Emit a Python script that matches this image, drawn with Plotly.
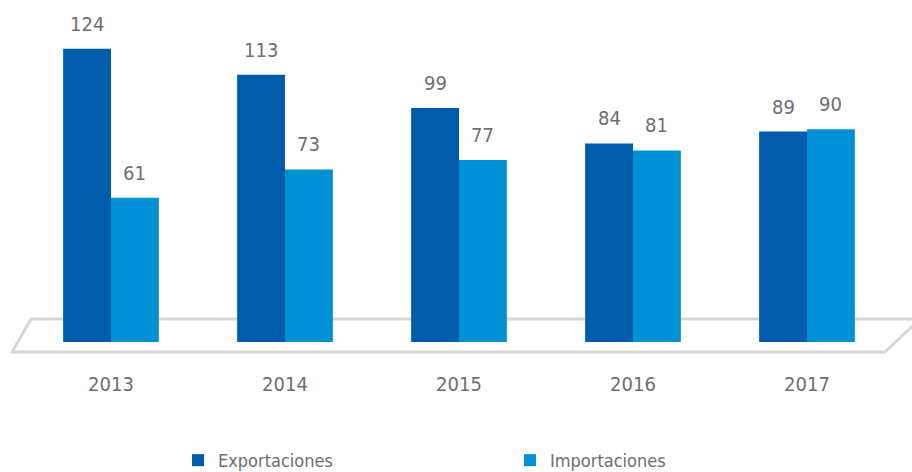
import plotly.graph_objects as go

years = ["2013", "2014", "2015", "2016", "2017"]
exportaciones = [124, 113, 99, 84, 89]
importaciones = [61, 73, 77, 81, 90]

C_EXP = "#005BAA"
C_IMP = "#0090D6"
TXT = "#6D6E71"
FONT = "DejaVu Sans Condensed, DejaVu Sans, sans-serif"

W, H = 912, 472
ML, MR, MT, MB = 24, 18, 11, 130
PW = W - ML - MR
PH = H - MT - MB

fig = go.Figure()
fig.add_trace(go.Bar(x=years, y=exportaciones, name="Exportaciones", marker_color=C_EXP,
                     marker_line_width=0))
fig.add_trace(go.Bar(x=years, y=importaciones, name="Importaciones", marker_color=C_IMP,
                     marker_line_width=0))

bargap = 0.45
half = PW / len(years) * (1 - bargap) / 4  # center offset of each bar in px

ann = []
for i, v in enumerate(exportaciones):
    ann.append(dict(x=i, y=v, text=str(v), showarrow=False, xshift=-half, yshift=11,
                    yanchor="bottom", font=dict(size=20, color=TXT, family=FONT)))
for i, v in enumerate(importaciones):
    ann.append(dict(x=i, y=v, text=str(v), showarrow=False, xshift=half, yshift=11,
                    yanchor="bottom", font=dict(size=20, color=TXT, family=FONT)))

def px2paper(xp, yp):
    return (xp - ML) / PW, (H - MB - yp) / PH

pts = [px2paper(31, 319), px2paper(12, 352), px2paper(885, 352), px2paper(920, 319)]
path = "M {} {} L {} {} L {} {} L {} {} Z".format(*[c for p in pts for c in p])

fig.update_layout(
    width=W, height=H,
    margin=dict(l=ML, r=MR, t=MT, b=MB, autoexpand=False),
    paper_bgcolor="white", plot_bgcolor="white",
    barmode="group", bargap=bargap, bargroupgap=0,
    font=dict(family=FONT, color=TXT, size=20),
    xaxis=dict(type="category", range=[-0.5, len(years) - 0.5], showgrid=False,
               showline=False, zeroline=False, ticks="",
               tickfont=dict(size=20, color=TXT), ticklabelstandoff=28),
    yaxis=dict(range=[0, 140], visible=False),
    showlegend=True,
    legend=dict(orientation="h", x=(178 - ML) / PW, xanchor="left", y=-0.302, yanchor="top",
                entrywidth=287, entrywidthmode="pixels",
                font=dict(size=18, color=TXT, family=FONT)),
    annotations=ann,
    shapes=[dict(type="path", path=path, xref="paper", yref="paper", layer="below",
                 line=dict(color="#D6D6D6", width=3), fillcolor="rgba(0,0,0,0)")],
)

fig.write_html("out.html", config={"displayModeBar": False},
               post_script="document.body.style.margin='0';")
